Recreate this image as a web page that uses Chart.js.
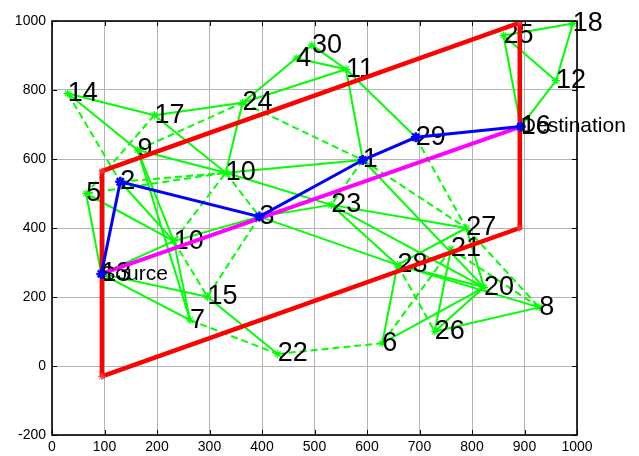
<!DOCTYPE html>
<html>
<head>
<meta charset="utf-8">
<script src="https://cdn.jsdelivr.net/npm/chart.js@4/dist/chart.umd.min.js"></script>
<style>
  html, body { margin: 0; padding: 0; background: #fff; }
  canvas { display: block; }
</style>
</head>
<body>
<canvas id="net" width="639" height="456"></canvas>
<script>
// Node coordinates, indexed by node number - 1
const nodeX = [592, 130, 395, 465, 65, 629, 263, 928, 163, 331, 560, 960, 94, 30, 296,
               893, 195, 992, 232, 823, 760, 430, 532, 363, 860, 729, 789, 658, 693, 495];
const nodeY = [597, 534, 433, 892, 500, 66, 133, 170, 626, 560, 860, 827, 267, 790, 201,
               694, 727, 993, 362, 228, 339, 35, 467, 763, 958, 100, 400, 293, 663, 930];
const nodeLabels = ['1', '2', '3', '4', '5', '6', '7', '8', '9', '10', '11', '12', '13', '14', '15',
                    '16', '17', '18', '10', '20', '21', '22', '23', '24', '25', '26', '27', '28', '29', '30'];

// Links between nodes (node numbers)
const solidLinks = [[14,17],[14,9],[17,24],[17,10],[9,10],[9,19],[9,7],[10,23],[10,1],[24,4],
                    [24,11],[24,10],[4,30],[4,11],[30,11],[11,1],[11,29],[5,13],[5,19],[2,19],
                    [13,19],[13,15],[13,7],[19,7],[19,3],[15,22],[3,23],[3,28],[23,27],[23,28],
                    [23,20],[1,20],[28,6],[28,20],[28,8],[27,20],[27,28],[6,20],[26,8],[26,20],
                    [21,26],[25,16],[25,12],[25,18],[18,12],[12,16]];
const dashedLinks = [[14,2],[17,5],[9,24],[2,10],[5,10],[19,10],[19,15],[10,3],[3,15],[7,22],
                     [22,6],[24,1],[1,23],[1,27],[29,27],[27,8],[21,8],[6,21],[28,26]];

// Route found from source to destination
const routeNodes = [13, 2, 3, 1, 29, 16];
const sourceNode = 13;
const destNode = 16;

// Search region (parallelogram) corners
const regionX = [95, 95, 891, 891, 95];
const regionY = [-30, 565, 995, 400, -30];

// Axis ticks
const xTickValues = [0, 100, 200, 300, 400, 500, 600, 700, 800, 900, 1000];
const yTickValues = [-200, 0, 200, 400, 600, 800, 1000];

const GREEN = '#00ff00';
const nodePt = n => ({ x: nodeX[n - 1], y: nodeY[n - 1] });

const datasets = [];
// index 0: route (drawn on top)
datasets.push({
  data: routeNodes.map(nodePt),
  showLine: true, borderColor: '#0000ff', backgroundColor: '#0000ff', borderWidth: 3,
  pointStyle: 'star', pointRadius: 5, pointBorderWidth: 2.5, pointBorderColor: '#0000ff',
  order: 0
});
// index 1: straight source-destination line
datasets.push({
  data: [nodePt(sourceNode), nodePt(destNode)],
  showLine: true, borderColor: '#ff00ff', borderWidth: 4, pointRadius: 0, order: 1
});
// index 2: region boundary
datasets.push({
  data: regionX.map((x, i) => ({ x, y: regionY[i] })),
  showLine: true, borderColor: '#ff0000', borderWidth: 4.5,
  pointStyle: 'star', pointRadius: 3.5, pointBorderWidth: 1, pointBorderColor: '#ff4040',
  order: 2
});
// index 3: node markers
datasets.push({
  data: nodeX.map((x, i) => ({ x, y: nodeY[i] })),
  showLine: false, pointStyle: 'star', pointRadius: 4, pointBorderWidth: 1.2,
  pointBorderColor: GREEN, backgroundColor: GREEN, order: 3
});
// links
solidLinks.forEach(([a, b]) => datasets.push({
  data: [nodePt(a), nodePt(b)], showLine: true, borderColor: GREEN, borderWidth: 2,
  pointRadius: 0, order: 3
}));
dashedLinks.forEach(([a, b]) => datasets.push({
  data: [nodePt(a), nodePt(b)], showLine: true, borderColor: GREEN, borderWidth: 2,
  borderDash: [7, 4], pointRadius: 0, order: 3
}));

const FONT = '"Liberation Sans", Arial, Helvetica, sans-serif';

const overlay = {
  id: 'overlay',
  beforeDatasetDraw(chart, args) {
    // node numbers sit under the boundary, the route and the direct line
    if (args.index !== 2) return;
    const { ctx, scales: { x, y } } = chart;
    ctx.save();
    ctx.font = '27px ' + FONT;
    ctx.fillStyle = '#000';
    ctx.textAlign = 'left';
    ctx.textBaseline = 'middle';
    nodeLabels.forEach((t, i) => {
      ctx.fillText(t, x.getPixelForValue(nodeX[i]), y.getPixelForValue(nodeY[i]));
    });
    ctx.restore();
  },
  afterDatasetsDraw(chart) {
    const { ctx, scales: { x, y } } = chart;
    ctx.save();
    ctx.font = '21px ' + FONT;
    ctx.fillStyle = '#000';
    ctx.textAlign = 'left';
    ctx.textBaseline = 'middle';
    ctx.fillText('Source', x.getPixelForValue(nodeX[sourceNode - 1]), y.getPixelForValue(nodeY[sourceNode - 1]));
    ctx.fillText('Destination', x.getPixelForValue(nodeX[destNode - 1]), y.getPixelForValue(nodeY[destNode - 1]));
    ctx.restore();
  },
  afterDraw(chart) {
    const { ctx, chartArea: a, scales: { x, y } } = chart;
    ctx.save();
    ctx.strokeStyle = '#000';
    ctx.lineWidth = 1;
    ctx.beginPath();
    xTickValues.forEach(v => {
      const px = Math.round(x.getPixelForValue(v)) + 0.5;
      ctx.moveTo(px, a.top); ctx.lineTo(px, a.top + 5);
      ctx.moveTo(px, a.bottom); ctx.lineTo(px, a.bottom - 5);
    });
    yTickValues.forEach(v => {
      const py = Math.round(y.getPixelForValue(v)) + 0.5;
      ctx.moveTo(a.left, py); ctx.lineTo(a.left + 5, py);
      ctx.moveTo(a.right, py); ctx.lineTo(a.right - 5, py);
    });
    ctx.stroke();
    ctx.lineWidth = 1.6;
    ctx.strokeRect(a.left, a.top, a.right - a.left, a.bottom - a.top);
    ctx.restore();
  }
};

const plainTick = v => String(v);

new Chart(document.getElementById('net'), {
  type: 'scatter',
  data: { datasets },
  options: {
    responsive: false,
    animation: false,
    devicePixelRatio: 1,
    layout: { padding: { top: 21, right: 62, left: 0, bottom: 0 } },
    plugins: { legend: { display: false }, tooltip: { enabled: false } },
    elements: { line: { tension: 0 } },
    scales: {
      x: {
        type: 'linear', min: 0, max: 1000,
        afterBuildTicks: s => { s.ticks = xTickValues.map(v => ({ value: v })); },
        afterFit: s => { s.height = 21; },
        ticks: { autoSkip: false, maxRotation: 0, padding: 4, color: '#000',
                 font: { family: FONT, size: 14 }, callback: plainTick },
        grid: { color: '#b4b4b4', lineWidth: 1, drawTicks: false },
        border: { display: false }
      },
      y: {
        type: 'linear', min: -200, max: 1000,
        afterBuildTicks: s => { s.ticks = yTickValues.map(v => ({ value: v })); },
        afterFit: s => { s.width = 52; },
        ticks: { autoSkip: false, padding: 6, color: '#000',
                 font: { family: FONT, size: 14 }, callback: plainTick },
        grid: { color: '#b4b4b4', lineWidth: 1, drawTicks: false },
        border: { display: false }
      }
    }
  },
  plugins: [overlay]
});
</script>
</body>
</html>
